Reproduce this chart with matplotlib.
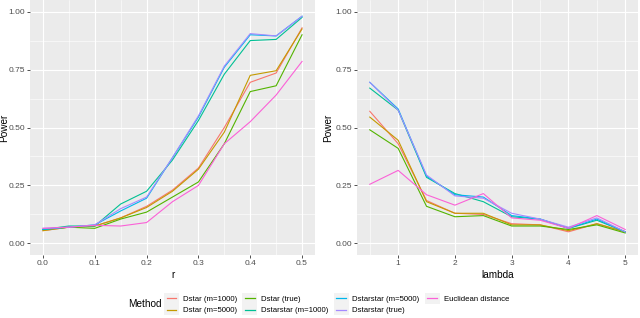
import numpy as np
import matplotlib.pyplot as plt
from matplotlib.lines import Line2D
from matplotlib.patches import Rectangle
from matplotlib.legend_handler import HandlerBase

plt.rcParams['font.family'] = ['Liberation Sans', 'DejaVu Sans']

# data
methods = ["Dstar (m=1000)", "Dstar (m=5000)", "Dstar (true)",
           "Dstarstar (m=1000)", "Dstarstar (m=5000)", "Dstarstar (true)",
           "Euclidean distance"]
colors = ["#F8766D", "#C49A00", "#53B400", "#00C094", "#00B6EB", "#A58AFF", "#FB61D7"]

r_vals = [0.0, 0.05, 0.1, 0.15, 0.2, 0.25, 0.3, 0.35, 0.4, 0.45, 0.5]
power_r = [
    [0.055, 0.070, 0.075, 0.110, 0.160, 0.230, 0.325, 0.500, 0.695, 0.735, 0.930],
    [0.055, 0.070, 0.075, 0.110, 0.155, 0.225, 0.320, 0.480, 0.725, 0.745, 0.925],
    [0.060, 0.070, 0.065, 0.105, 0.135, 0.200, 0.265, 0.430, 0.655, 0.680, 0.900],
    [0.060, 0.075, 0.075, 0.170, 0.225, 0.360, 0.530, 0.730, 0.875, 0.880, 0.975],
    [0.060, 0.070, 0.080, 0.140, 0.195, 0.370, 0.545, 0.760, 0.900, 0.895, 0.980],
    [0.065, 0.070, 0.080, 0.150, 0.200, 0.370, 0.550, 0.765, 0.905, 0.895, 0.980],
    [0.065, 0.070, 0.078, 0.075, 0.090, 0.180, 0.250, 0.430, 0.525, 0.640, 0.785],
]

lambda_vals = [0.5, 1.0, 1.5, 2.0, 2.5, 3.0, 3.5, 4.0, 4.5, 5.0]
power_lambda = [
    [0.570, 0.430, 0.185, 0.130, 0.125, 0.085, 0.080, 0.050, 0.085, 0.050],
    [0.545, 0.445, 0.180, 0.130, 0.130, 0.080, 0.080, 0.055, 0.085, 0.050],
    [0.490, 0.410, 0.160, 0.115, 0.120, 0.075, 0.075, 0.060, 0.080, 0.045],
    [0.670, 0.575, 0.285, 0.215, 0.180, 0.115, 0.105, 0.065, 0.100, 0.050],
    [0.695, 0.580, 0.290, 0.210, 0.200, 0.120, 0.105, 0.065, 0.105, 0.050],
    [0.695, 0.575, 0.295, 0.205, 0.195, 0.130, 0.105, 0.070, 0.110, 0.050],
    [0.255, 0.315, 0.210, 0.165, 0.215, 0.110, 0.100, 0.065, 0.120, 0.060],
]

W, H = 640, 318
fig = plt.figure(figsize=(6.4, 3.18), dpi=100)
ax1 = fig.add_axes([30 / W, 1 - 255 / H, 285 / W, 255 / H])
ax2 = fig.add_axes([357 / W, 1 - 255 / H, 281 / W, 255 / H])


def style(ax, xmajor, xminor, xlim, xlabel, ylab_x):
    ax.set_facecolor("#EBEBEB")
    for s in ax.spines.values():
        s.set_visible(False)
    ax.set_ylim(-0.05, 1.05)
    ax.set_xlim(*xlim)
    ax.set_yticks([0, 0.25, 0.5, 0.75, 1.0])
    ax.set_yticklabels(["0.00", "0.25", "0.50", "0.75", "1.00"])
    ax.set_yticks([0.125, 0.375, 0.625, 0.875], minor=True)
    ax.set_xticks(xmajor)
    ax.set_xticks(xminor, minor=True)
    ax.grid(which="major", color="white", linewidth=0.8)
    ax.grid(which="minor", color="white", linewidth=0.4)
    ax.set_axisbelow(True)
    ax.tick_params(which="major", length=2, width=0.6, color="#333333",
                   labelsize=6, labelcolor="#4D4D4D", pad=1.5)
    ax.tick_params(which="minor", length=0)
    ax.set_ylabel("Power", fontsize=7.2)
    ax.yaxis.set_label_coords(ylab_x, 0.5)
    ax.set_xlabel(xlabel, fontsize=7.2, labelpad=2)


for vals, c in zip(power_r, colors):
    ax1.plot(r_vals, vals, color=c, linewidth=0.8)
for vals, c in zip(power_lambda, colors):
    ax2.plot(lambda_vals, vals, color=c, linewidth=0.8)

style(ax1, [0, 0.1, 0.2, 0.3, 0.4, 0.5], [0.05, 0.15, 0.25, 0.35, 0.45],
      (-0.025, 0.525), "r", -21 / 285)
ax1.set_xticklabels(["0.0", "0.1", "0.2", "0.3", "0.4", "0.5"])
style(ax2, [1, 2, 3, 4, 5], [0.5, 1.5, 2.5, 3.5, 4.5], (0.275, 5.225),
      "lambda", -24 / 281)


class KeyHandler(HandlerBase):
    # ggplot-like legend key: grey square with a short line
    def create_artists(self, legend, orig_handle, xdescent, ydescent,
                       width, height, fontsize, trans):
        bg = Rectangle((-xdescent, -ydescent), width, height,
                       facecolor="#F2F2F2", edgecolor="none", transform=trans)
        y = -ydescent + height / 2
        ln = Line2D([-xdescent + width * 0.17, -xdescent + width * 0.83], [y, y],
                    color=orig_handle.get_color(), linewidth=0.9, transform=trans)
        return [bg, ln]


handles = [Line2D([0], [0], color=c) for c in colors]
leg = fig.legend(handles, methods, loc="center left",
                 bbox_to_anchor=(164 / W, 1 - 304 / H), ncol=4, fontsize=5.6,
                 frameon=False, borderpad=0, borderaxespad=0,
                 handlelength=1.93, handleheight=1.8, handletextpad=0.5,
                 columnspacing=0.65, labelspacing=0.0,
                 handler_map={Line2D: KeyHandler()})
fig.text(128 / W, 1 - 304 / H, "Method", fontsize=7.2, ha="left", va="center")

fig.savefig("out.png", dpi=100)
